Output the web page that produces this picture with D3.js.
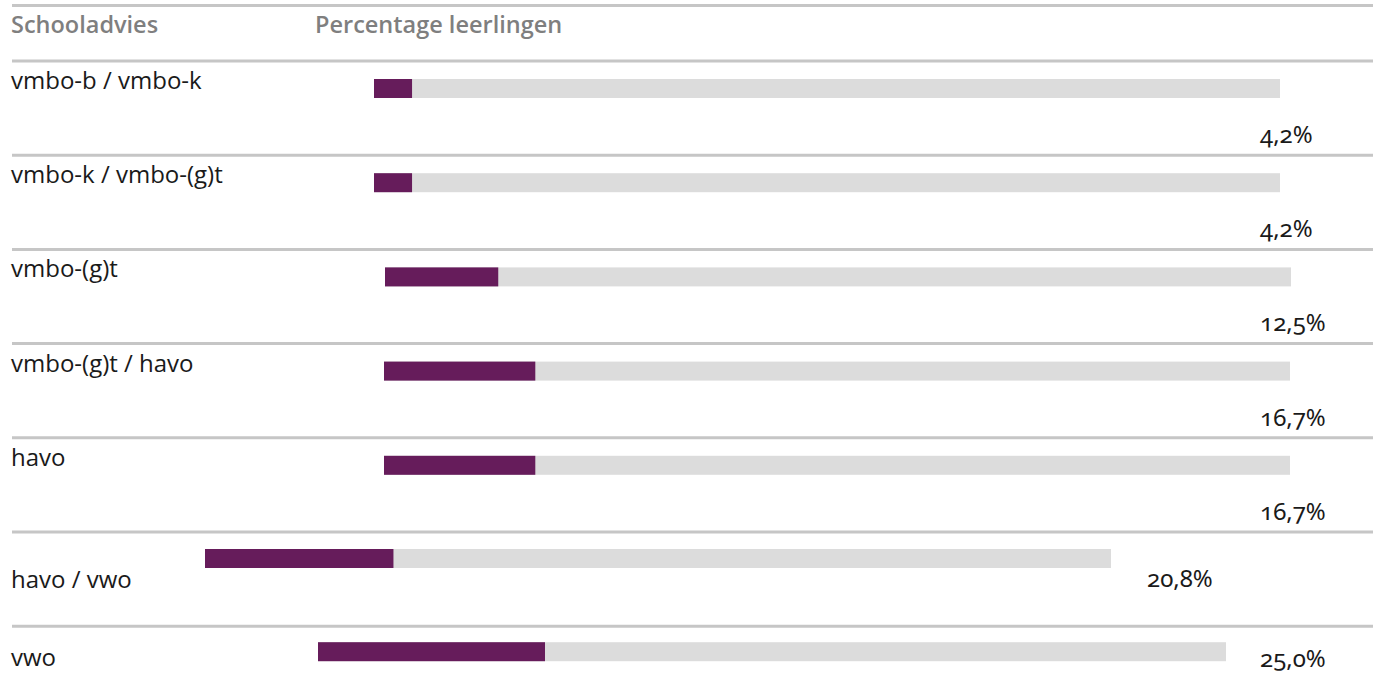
<!DOCTYPE html>
<html>
<head>
<meta charset="utf-8">
<script src="https://cdn.jsdelivr.net/npm/d3@7/dist/d3.min.js"></script>
<style>
  html, body { margin: 0; padding: 0; background: #ffffff; }
  svg { display: block; }
  .cat { font-family: "Open Sans", "Noto Sans", sans-serif; font-size: 24px; fill: #1a1a1a; }
  .head { font-family: "Open Sans", "Noto Sans", sans-serif; font-size: 23.5px; font-weight: 600; fill: #7f7f7f; }
  .val { font-family: "Noto Sans", Lato, sans-serif; font-size: 24px; fill: #1a1a1a; font-variant-numeric: oldstyle-nums; font-feature-settings: "onum" 1; }
</style>
</head>
<body>
<script>
// Schooladvies en aandeel leerlingen
const categories = ["vmbo-b / vmbo-k", "vmbo-k / vmbo-(g)t", "vmbo-(g)t", "vmbo-(g)t / havo", "havo", "havo / vwo", "vwo"];
const percentages = [4.2, 4.2, 12.5, 16.7, 16.7, 20.8, 25.0];
const headers = ["Schooladvies", "Percentage leerlingen"];

// Per-row placement of the 0–100% track and the labels
const trackStart = [374, 374, 385, 384, 384, 205, 318];
const trackEnd   = [1280, 1280, 1291, 1290, 1290, 1111, 1226];
const barOffset  = [18, 18, 18, 18, 18, 17, 16];
const catOffset  = [28, 28, 28, 28, 28, 56, 40];
const valX       = [1260, 1260, 1260, 1260, 1260, 1147, 1260];
const valOffset  = [82, 82, 82, 82, 82, 55, 41];

const W = 1373, H = 675;
const barH = 19;

const nl = d3.formatLocale({ decimal: ",", thousands: ".", grouping: [3], currency: ["€", ""] });
const fmt = v => nl.format(".1f")(v) + "%";

const svg = d3.select("body").append("svg").attr("width", W).attr("height", H);

const y = d3.scaleBand().domain(categories).range([61, 61 + categories.length * 94.2]).padding(0);

// Header rules and titles
svg.append("line").attr("x1", 12).attr("x2", W).attr("y1", 5.5).attr("y2", 5.5)
  .attr("stroke", "#c6c6c6").attr("stroke-width", 3);
svg.append("text").attr("class", "head").attr("x", 11).attr("y", 33).text(headers[0]);
svg.append("text").attr("class", "head").attr("x", 315).attr("y", 33).text(headers[1]);

const rows = svg.selectAll("g.row").data(categories).join("g").attr("class", "row")
  .attr("transform", d => `translate(0,${y(d)})`);

rows.append("line").attr("x1", 12).attr("x2", W).attr("y1", 0).attr("y2", 0)
  .attr("stroke", "#c6c6c6").attr("stroke-width", 3);

rows.append("text").attr("class", "cat").attr("x", 11).attr("y", (d, i) => catOffset[i]).text(d => d);

rows.each(function (d, i) {
  const g = d3.select(this);
  const x = d3.scaleLinear().domain([0, 100]).range([trackStart[i], trackEnd[i]]);
  g.append("rect").attr("x", x(0)).attr("y", barOffset[i]).attr("width", x(100) - x(0)).attr("height", barH)
    .attr("fill", "#dcdcdc");
  g.append("rect").attr("x", x(0)).attr("y", barOffset[i]).attr("width", x(percentages[i]) - x(0)).attr("height", barH)
    .attr("fill", "#661c5b");
  g.append("text").attr("class", "val").attr("x", valX[i]).attr("y", valOffset[i]).text(fmt(percentages[i]));
});
</script>
</body>
</html>
